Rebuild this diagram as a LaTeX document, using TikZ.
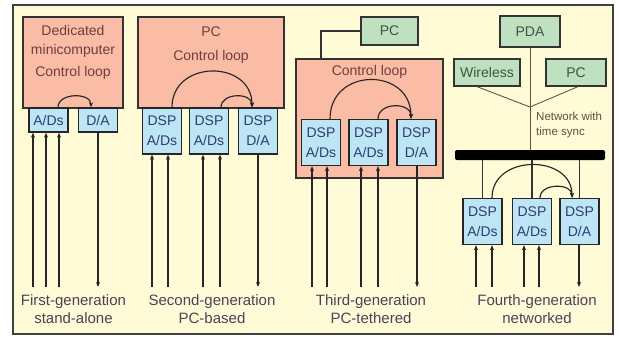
\documentclass[tikz,border=0pt]{standalone}
\usepackage{fontspec}
\setmainfont{Liberation Sans}
\usetikzlibrary{arrows.meta}
\definecolor{paper}{RGB}{255,251,214}
\definecolor{hostfill}{RGB}{250,188,164}
\definecolor{dspfill}{RGB}{190,229,245}
\definecolor{pcfill}{RGB}{192,225,192}
\definecolor{hostink}{RGB}{112,62,62}
\definecolor{dspink}{RGB}{45,62,110}
\definecolor{pcink}{RGB}{60,85,70}
\definecolor{capink}{RGB}{80,64,88}
\definecolor{netink}{RGB}{95,80,60}
\tikzset{
	hostbox/.style={draw=black!80, fill=hostfill, line width=0.45mm, inner sep=0pt},
	hosttxt/.style={text=hostink, font=\fontsize{14}{16}\selectfont, inner sep=0pt, text height=10pt, text depth=3pt},
	dspbox/.style={draw=black!85, fill=dspfill, line width=0.45mm, minimum width=39pt, minimum height=46pt, inner sep=0pt, align=center, text=dspink, font=\fontsize{14}{20}\selectfont},
	smallbox/.style={dspbox, minimum height=24pt},
	pcbox/.style={draw=black!80, fill=pcfill, line width=0.45mm, minimum height=28pt, inner sep=0pt, text=pcink, font=\fontsize{14}{16}\selectfont},
	sig/.style={line width=0.45mm, draw=black!85, -{Stealth[length=5pt,width=4pt]}},
	loopline/.style={line width=0.4mm, draw=black!85, -{Stealth[length=5pt,width=4pt]}},
	netline/.style={line width=0.3mm, draw=netink},
	busline/.style={line width=0.45mm, draw=black!80},
	caption/.style={align=center, text=capink, font=\fontsize{15}{18}\selectfont, inner sep=0pt}
}

\begin{document}
\begin{tikzpicture}[x=1pt, y=-1pt]
		%%%%% START %%%%%
		\useasboundingbox (0,0) rectangle (619,337);
		\draw[line width=0.5mm, color=black!75, fill=paper] (13,5) rectangle (613,334);
		
		% first generation
		\node[hostbox, minimum width=100pt, minimum height=91pt] (mini) at (73,62.5) {};
		\node[hosttxt] (miniA) at (73,32) {Dedicated};
		\node[hosttxt] (miniB) at (73,51) {minicomputer};
		\node[hosttxt] (miniC) at (73,73) {Control loop};
		\node[smallbox] (adc1) at (48.5,120) {A/Ds};
		\node[smallbox] (dac1) at (98,120) {D/A};
		\draw[loopline] ([xshift=9.5pt]adc1.north) .. controls +(0,-15) and +(0,-15) .. ([xshift=-7pt]dac1.north);
		\foreach \x in {33,46,59} {
			\coordinate (inA) at (\x,287);
			\draw[sig] (inA) -- (inA |- adc1.south);
		}
		\coordinate (outA) at (98,287);
		\draw[sig] (dac1.south) -- (outA);
		\node[caption] (cap1) at (73.5,309) {First-generation\\stand-alone};
		
		% second generation
		\node[hostbox, minimum width=146pt, minimum height=91pt] (pc2) at (211,62.5) {};
		\node[hosttxt] (pc2A) at (211,33) {PC};
		\node[hosttxt] (pc2B) at (211,57) {Control loop};
		\node[dspbox] (adc2a) at (162,131) {DSP\\A/Ds};
		\node[dspbox] (adc2b) at (209,131) {DSP\\A/Ds};
		\node[dspbox] (dac2) at (258,131) {DSP\\D/A};
		\draw[loopline] ([xshift=10pt]adc2a.north) .. controls +(0,-48) and +(0,-48) .. ([xshift=-6pt]dac2.north);
		\draw[loopline] ([xshift=12pt]adc2b.north) .. controls +(0,-15) and +(0,-15) .. ([xshift=-6pt]dac2.north);
		\foreach \x in {152,168} {
			\coordinate (inB) at (\x,287);
			\draw[sig] (inB) -- (inB |- adc2a.south);
		}
		\foreach \x in {203,220} {
			\coordinate (inB) at (\x,287);
			\draw[sig] (inB) -- (inB |- adc2b.south);
		}
		\coordinate (outB) at (258,287);
		\draw[sig] (dac2.south) -- (outB);
		\node[caption] (cap2) at (212,309) {Second-generation\\PC-based};
		
		% third generation
		\node[pcbox, minimum width=57pt] (pc3) at (389.5,31) {PC};
		\node[hostbox, minimum width=147pt, minimum height=119pt] (ctl3) at (369.5,118.5) {};
		\node[hosttxt] (ctl3A) at (369.5,72) {Control loop};
		\coordinate (tap3) at (321,0);
		\draw[busline] (pc3.west) -| (ctl3.north -| tap3);
		\node[dspbox] (adc3a) at (321,142.5) {DSP\\A/Ds};
		\node[dspbox] (adc3b) at (368.5,142.5) {DSP\\A/Ds};
		\node[dspbox] (dac3) at (416.5,142.5) {DSP\\D/A};
		\draw[loopline] ([xshift=9pt]adc3a.north) .. controls +(0,-52) and +(0,-52) .. ([xshift=-5.5pt]dac3.north);
		\draw[loopline] ([xshift=9.5pt]adc3b.north) .. controls +(0,-17) and +(0,-17) .. ([xshift=-5.5pt]dac3.north);
		\foreach \x in {312,327} {
			\coordinate (inC) at (\x,287);
			\draw[sig] (inC) -- (inC |- adc3a.south);
		}
		\foreach \x in {361,378} {
			\coordinate (inC) at (\x,287);
			\draw[sig] (inC) -- (inC |- adc3b.south);
		}
		\coordinate (outC) at (417,287);
		\draw[sig] (dac3.south -| outC) -- (outC);
		\node[caption] (cap3) at (371,309) {Third-generation\\PC-tethered};
		
		% fourth generation
		\node[pcbox, minimum width=60pt, minimum height=31pt] (pda) at (530,31.5) {PDA};
		\node[pcbox, minimum width=66pt, minimum height=27pt] (wls) at (487,72.5) {Wireless};
		\node[pcbox, minimum width=60pt, minimum height=27pt] (pc4) at (576,72.5) {PC};
		\node[fill=black, rounded corners=2pt, minimum width=150pt, minimum height=10pt, inner sep=0pt] (bus) at (530,155) {};
		\coordinate (hub) at (530,107);
		\draw[netline] ([xshift=-10pt]wls.south) -- (hub) -- ([xshift=2pt]pc4.south);
		\draw[netline] (pda.south) -- (pda.south |- bus.north);
		\node[anchor=west, align=left, text=netink, font=\fontsize{11.5}{15}\selectfont, inner sep=0pt] (net) at (536,125) {Network with\\time sync};
		\node[dspbox] (adc4a) at (482.5,221.5) {DSP\\A/Ds};
		\node[dspbox] (adc4b) at (532,221.5) {DSP\\A/Ds};
		\node[dspbox] (dac4) at (579.5,221.5) {DSP\\D/A};
		\draw[busline] (adc4a.north) -- (adc4a.north |- bus.south);
		\draw[busline] (adc4b.north) -- (adc4b.north |- bus.south);
		\draw[busline] (dac4.north) -- (dac4.north |- bus.south);
		\draw[loopline] ([xshift=9.5pt]adc4a.north) .. controls +(0,-44) and +(0,-44) .. ([xshift=-7.5pt]dac4.north);
		\draw[loopline] ([xshift=8pt]adc4b.north) .. controls +(0,-15) and +(0,-15) .. ([xshift=-7.5pt]dac4.north);
		\foreach \x in {476,492} {
			\coordinate (inD) at (\x,287);
			\draw[sig] (inD) -- (inD |- adc4a.south);
		}
		\foreach \x in {524,539} {
			\coordinate (inD) at (\x,287);
			\draw[sig] (inD) -- (inD |- adc4b.south);
		}
		\coordinate (outD) at (579,287);
		\draw[sig] (dac4.south -| outD) -- (outD);
		\node[caption] (cap4) at (537,309) {Fourth-generation\\networked};
		
		%%%%% END %%%%%
\end{tikzpicture}
\end{document}
